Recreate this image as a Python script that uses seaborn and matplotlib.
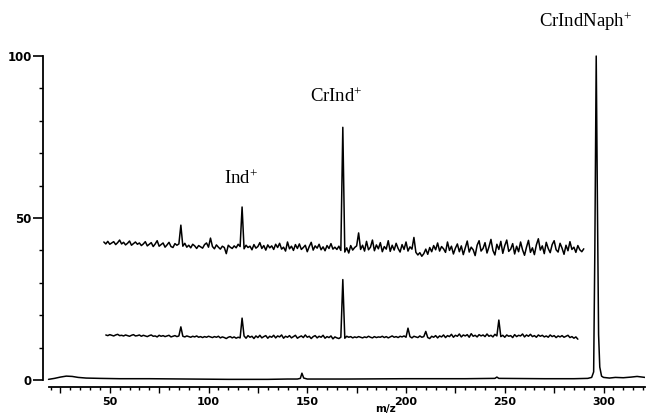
import numpy as np
import matplotlib
matplotlib.use("Agg")
import matplotlib.pyplot as plt
import seaborn as sns
from matplotlib.ticker import MultipleLocator, FixedLocator, FuncFormatter

# ---------------- data ----------------
# main spectrum (full scale)
main_mz = [19, 22, 25, 28, 31, 34, 38, 45, 55, 70, 90, 110, 130, 140, 145,
           146.5, 147.3, 148.2, 150, 170, 200, 230, 245, 246, 247, 270, 285,
           292, 294, 295, 295.6, 296.3, 296.9, 297.5, 298.1, 299, 300, 303,
           306, 310, 314, 317, 321]
main_int = [0.2, 0.5, 0.9, 1.2, 1.1, 0.8, 0.6, 0.5, 0.4, 0.4, 0.3, 0.2, 0.2,
            0.3, 0.3, 0.5, 2.1, 0.6, 0.3, 0.3, 0.4, 0.4, 0.5, 0.9, 0.5, 0.4,
            0.4, 0.5, 0.8, 2.5, 40.0, 100.0, 55.0, 14.0, 4.0, 1.2, 0.8, 0.6,
            0.8, 0.7, 0.9, 1.1, 0.8]

# upper magnified trace, m/z 47 .. 290 (step 1)
upper_start = 47
upper_int = [
    42.6, 42.0, 42.8, 41.9, 42.3, 42.7, 41.8, 42.4, 43.2, 42.0,
    42.5, 41.7, 42.2, 42.9, 41.6, 42.1, 42.6, 41.9, 42.3, 41.5,
    42.0, 42.7, 41.4, 41.9, 42.4, 41.2, 42.0, 43.0, 41.3, 41.8,
    42.3, 41.0, 41.7, 42.5, 41.2, 40.9, 42.1, 41.6, 42.0, 47.8,
    41.3, 42.2, 41.0, 41.6, 40.8, 41.9, 41.4, 40.6, 41.5, 41.1,
    40.7, 41.8, 42.3, 41.0, 43.8, 41.2, 40.5, 41.7, 41.0, 40.4,
    41.3, 40.9, 39.0, 41.6, 41.0, 40.6, 41.4, 40.8, 41.9, 41.2,
    53.4, 40.5, 41.6, 40.9, 41.3, 40.2, 41.8, 40.7, 41.2, 42.4,
    40.6, 41.5, 40.1, 41.7, 40.8, 41.4, 40.3, 41.9, 40.9, 42.2,
    40.4, 41.0, 39.8, 42.6, 40.5, 41.3, 40.0, 41.8, 40.6, 42.0,
    40.3, 40.9, 41.6, 39.6, 41.2, 42.5, 40.1, 41.4, 40.7, 41.9,
    40.2, 41.1, 39.9, 41.5, 40.6, 42.1, 40.4, 41.0, 40.3, 41.3,
    40.0, 78.0, 39.5, 40.8, 39.2, 41.5, 40.1, 40.9, 41.4, 45.4,
    40.3, 41.6, 39.8, 42.8, 40.2, 41.0, 43.2, 39.9, 41.7, 40.5,
    42.4, 39.6, 41.2, 40.4, 43.0, 39.7, 41.6, 40.1, 42.2, 40.6,
    39.5, 41.8, 40.3, 42.6, 39.8, 41.1, 40.4, 44.0, 39.4, 38.6,
    39.3, 38.2, 39.0, 40.4, 38.8, 40.9, 39.6, 41.5, 40.2, 42.3,
    39.8, 41.2, 40.5, 39.4, 42.6, 40.0, 41.3, 38.9, 40.7, 42.0,
    39.6, 41.4, 38.7, 40.8, 42.9, 39.5, 41.0, 40.2, 38.4, 41.6,
    43.0, 39.8, 40.6, 42.4, 39.2, 41.1, 43.4, 40.0, 38.6, 41.9,
    40.3, 42.8, 39.1, 41.5, 43.2, 39.7, 40.4, 42.1, 38.9, 41.3,
    39.6, 42.6, 40.2, 38.5, 41.0, 43.1, 39.4, 40.8, 38.7, 41.7,
    43.6, 40.1, 41.4, 39.0, 42.5, 40.6, 39.3, 41.8, 43.0, 40.2,
    39.5, 42.2, 40.7, 38.8, 41.6, 39.9, 42.7, 40.3, 41.0, 39.4,
    41.5, 40.2, 39.6, 40.5,
]

# lower magnified trace, m/z 48 .. 287 (step 1)
lower_start = 48
lower_int = [
    13.9, 13.7, 14.0, 13.8, 13.6, 13.9, 14.1, 13.7, 13.8, 13.6,
    13.9, 13.7, 13.5, 13.8, 14.0, 13.6, 13.7, 13.9, 13.5, 13.8,
    13.6, 13.4, 13.7, 13.9, 13.5, 13.6, 13.3, 13.8, 13.5, 13.7,
    13.4, 13.6, 13.8, 13.3, 13.5, 13.7, 13.4, 13.6, 16.4, 13.5,
    13.3, 13.6, 13.4, 13.2, 13.5, 13.3, 13.6, 13.2, 13.4, 13.1,
    13.4, 13.2, 13.5, 13.3, 13.1, 13.4, 13.2, 13.5, 13.0, 13.3,
    13.1, 12.8, 13.2, 13.4, 13.0, 13.3, 12.9, 13.2, 13.0, 19.1,
    13.6, 12.9, 13.7, 13.2, 13.5, 12.8, 13.6, 13.1, 13.8, 13.0,
    13.4, 13.7, 12.9, 13.5, 13.2, 13.8, 13.0, 13.6, 13.3, 13.9,
    12.9, 13.5, 13.2, 13.7, 13.0, 13.4, 13.8, 12.9, 13.3, 13.6,
    13.1, 13.9, 13.2, 13.5, 12.8, 13.4, 13.7, 13.0, 13.5, 13.2,
    13.8, 12.9, 13.4, 13.1, 13.6, 12.7, 13.3, 13.0, 12.8, 13.2,
    31.0, 12.9, 13.5, 13.2, 13.4, 13.0, 13.3, 13.1, 13.4, 13.2,
    13.0, 13.3, 13.1, 13.5, 13.2, 13.0, 13.4, 13.1, 13.3, 13.2,
    13.5, 13.1, 13.4, 13.0, 13.3, 13.6, 13.2, 13.4, 13.1, 13.5,
    13.3, 13.6, 13.2, 16.0, 13.4, 13.0, 13.5, 13.3, 13.1, 13.6,
    13.2, 13.4, 15.0, 13.1, 12.8, 13.5, 13.2, 13.7, 13.0, 13.6,
    13.3, 13.9, 13.1, 13.7, 13.4, 14.1, 13.2, 13.8, 13.5, 14.2,
    13.3, 13.9, 13.6, 14.0, 13.2, 14.3, 13.5, 13.8, 13.3, 14.0,
    13.6, 13.9, 13.4, 14.2, 13.5, 13.8, 13.3, 14.1, 13.6, 18.5,
    13.4, 13.8, 13.2, 13.9, 13.5, 13.7, 13.1, 14.0, 13.4, 13.8,
    13.6, 14.2, 13.3, 13.9, 13.5, 14.1, 13.4, 13.7, 13.2, 13.9,
    13.5, 13.8, 13.3, 13.6, 13.2, 13.9, 13.4, 13.7, 13.1, 13.6,
    13.3, 13.7, 13.2, 13.5, 13.8, 13.1, 13.4, 12.9, 13.3, 12.6,
]

labels = ["Ind$^{+}$", "CrInd$^{+}$", "CrIndNaph$^{+}$"]
label_mz = [116.2, 164.5, 291.0]
label_y = [60.5, 85.8, 109.0]

x_ticks_major = [50, 100, 150, 200, 250, 300]
y_ticks_major = [0, 50, 100]
y_ticks_minor = [10, 20, 30, 40, 60, 70, 80, 90]
xlabel = "m/z"

# ---------------- plot ----------------
sns.set_theme(style="white")
plt.rcParams["mathtext.fontset"] = "custom"
plt.rcParams["mathtext.rm"] = "Liberation Serif"
plt.rcParams["mathtext.it"] = "Liberation Serif:italic"
plt.rcParams["mathtext.bf"] = "Liberation Serif:bold"

fig = plt.figure(figsize=(6.47, 4.18), dpi=100)
ax = fig.add_axes([43 / 647, 31 / 418, 602 / 647, 387 / 418])

upper_mz = np.arange(upper_start, upper_start + len(upper_int))
lower_mz = np.arange(lower_start, lower_start + len(lower_int))

lw = 1.1
sns.lineplot(x=main_mz, y=main_int, ax=ax, color="black", linewidth=lw,
             estimator=None, sort=False)
sns.lineplot(x=upper_mz, y=upper_int, ax=ax, color="black", linewidth=lw,
             estimator=None, sort=False)
sns.lineplot(x=lower_mz, y=lower_int, ax=ax, color="black", linewidth=lw,
             estimator=None, sort=False)

ax.set_xlim(16.2, 321.0)
ax.set_ylim(-2.16, 117.3)

for s in ["top", "right"]:
    ax.spines[s].set_visible(False)
for s in ["left", "bottom"]:
    ax.spines[s].set_color("black")
    ax.spines[s].set_linewidth(1.3)
ax.spines["left"].set_bounds(0, 100)
ax.spines["bottom"].set_bounds(19.2, 321)

ax.xaxis.set_major_locator(MultipleLocator(25))
ax.xaxis.set_minor_locator(MultipleLocator(5))
ax.xaxis.set_major_formatter(
    FuncFormatter(lambda v, p: f"{int(round(v))}" if int(round(v)) in x_ticks_major else ""))
ax.yaxis.set_major_locator(FixedLocator(y_ticks_major))
ax.yaxis.set_minor_locator(FixedLocator(y_ticks_minor))
ax.yaxis.set_major_formatter(FuncFormatter(lambda v, p: f"{int(round(v))}"))

ax.tick_params(axis="x", which="major", direction="out", length=4.5, width=1.0,
               color="black", bottom=True, pad=3, labelsize=8)
ax.tick_params(axis="x", which="minor", direction="out", length=2.5, width=1.0,
               color="black", bottom=True)
ax.tick_params(axis="y", which="major", direction="out", length=7, width=1.2,
               color="black", left=True, pad=1, labelsize=8.5)
ax.tick_params(axis="y", which="minor", direction="out", length=3, width=1.0,
               color="black", left=True)
for t in ax.get_xticklabels() + ax.get_yticklabels():
    t.set_fontweight("bold")
    t.set_family("DejaVu Sans")
    t.set_color("black")

ax.text(386 / 602 - 43 / 602, -22 / 387, xlabel, transform=ax.transAxes,
        ha="center", va="center", fontsize=7.5, fontweight="bold",
        family="DejaVu Sans", color="black", clip_on=False)

for lab, xm, yv in zip(labels, label_mz, label_y):
    ax.text(xm, yv, lab, ha="center", va="baseline", fontsize=13.5,
            family="Liberation Serif", color="black", clip_on=False)

ax.set_xlabel("")
ax.set_ylabel("")
ax.grid(False)
fig.savefig("out.png", dpi=100)
